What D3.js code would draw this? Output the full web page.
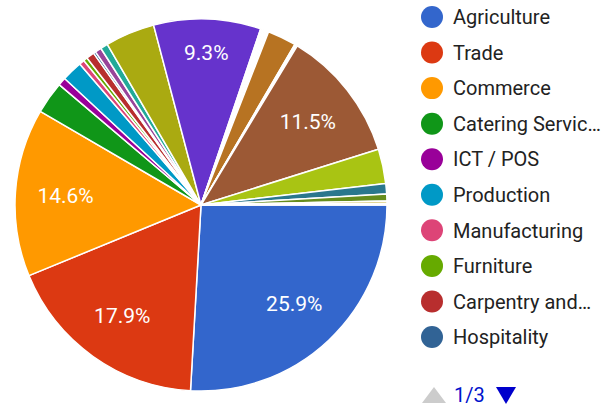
<!DOCTYPE html>
<html>
<head>
<meta charset="utf-8">
<script src="https://cdn.jsdelivr.net/npm/d3@7/dist/d3.min.js"></script>
<style>
  html, body { margin: 0; padding: 0; background: #fff; }
  svg { display: block; font-family: Roboto, "Noto Sans", Arial, sans-serif; }
</style>
</head>
<body>
<svg id="chart" width="615" height="407"></svg>
<script>
// Categories (only the first legend page is visible in the reference)
const categories = [
  "Agriculture", "Trade", "Commerce", "Catering Services", "ICT / POS",
  "Production", "Manufacturing", "Furniture", "Carpentry and Joinery", "Hospitality",
  "Item 11", "Item 12", "Item 13", "Item 14", "Item 15",
  "Item 16", "Item 17", "Item 18", "Item 19", "Item 20",
  "Item 21", "Item 22", "Item 23", "Item 24", "Item 25",
  "Item 26", "Item 27", "Item 28", "Item 29", "Item 30"
];
// Share of each category, percent
const values = [
  25.9, 17.9, 14.6, 2.8, 0.7,
  1.8, 0.45, 0.35, 0.7, 0.2,
  0.55, 0.65, 4.3, 9.3, 0.12,
  0.12, 0.12, 0.12, 0.12, 0.12,
  2.5, 0.08, 0.08, 0.08, 11.5,
  3.0, 0.9, 0.6, 0.2, 0.14
];
const colors = [
  "#3366cc", "#dc3912", "#ff9900", "#109618", "#990099",
  "#0099c6", "#dd4477", "#66aa00", "#b82e2e", "#316395",
  "#994499", "#22aa99", "#aaaa11", "#6633cc", "#e67300",
  "#8b0707", "#651067", "#329262", "#5574a6", "#3b3eac",
  "#b77322", "#16d620", "#b91383", "#f4359e", "#9c5935",
  "#a9c413", "#2a778d", "#668d1c", "#bea413", "#0c5922"
];
const legendPage = "1/3";
const legendPageSize = 10;

const data = categories.map((c, i) => ({ name: c, value: values[i], color: colors[i] }));

const svg = d3.select("#chart");
const cx = 201, cy = 205, R = 186;

const pie = d3.pie().sort(null).value(d => d.value)
  .startAngle(Math.PI / 2).endAngle(Math.PI / 2 + 2 * Math.PI);
const arcs = pie(data);
const arc = d3.arc().innerRadius(0).outerRadius(R);
const labelArc = d3.arc().innerRadius(R * 0.73).outerRadius(R * 0.73);
const labelArcNarrow = d3.arc().innerRadius(R * 0.82).outerRadius(R * 0.82);

const g = svg.append("g").attr("transform", `translate(${cx},${cy})`);
g.selectAll("path.slice").data(arcs).join("path")
  .attr("class", "slice")
  .attr("d", arc)
  .attr("fill", d => d.data.color)
  .attr("stroke", "#fff")
  .attr("stroke-width", 1.5)
  .attr("stroke-linejoin", "round");

const total = d3.sum(values);
g.selectAll("text.pct").data(arcs.filter(d => d.data.value / total >= 0.05)).join("text")
  .attr("class", "pct")
  .attr("transform", d => `translate(${(d.data.value / total < 0.1 ? labelArcNarrow : labelArc).centroid(d)})`)
  .attr("text-anchor", "middle")
  .attr("dy", "0.36em")
  .attr("fill", "#fff")
  .attr("font-size", 21)
  .text(d => d3.format(".1%")(d.data.value / total));

// Legend
const legendItems = data.slice(0, legendPageSize);
const ly = d3.scalePoint().domain(legendItems.map(d => d.name)).range([17, 337]);
const lg = svg.append("g");
const rows = lg.selectAll("g.row").data(legendItems).join("g")
  .attr("class", "row")
  .attr("transform", d => `translate(0,${ly(d.name)})`);
rows.append("circle").attr("cx", 432).attr("cy", 0).attr("r", 11).attr("fill", d => d.color);
const maxW = 151;
rows.append("text")
  .attr("x", 453).attr("dy", "0.36em")
  .attr("font-size", 20).attr("fill", "#222")
  .each(function(d) {
    const t = d3.select(this);
    t.text(d.name);
    if (this.getComputedTextLength() > maxW) {
      let s = d.name;
      while (s.length > 1) {
        s = s.slice(0, -1);
        t.text(s.trimEnd() + "…");
        if (this.getComputedTextLength() <= maxW) break;
      }
    }
  });

// Paging control
const nav = svg.append("g").attr("transform", "translate(0,395)");
nav.append("path").attr("d", "M422,8 L446,8 L434,-8 Z").attr("fill", "#cccccc");
nav.append("text").attr("x", 454).attr("dy", "0.36em").attr("font-size", 20)
  .attr("fill", "#0011cc").text(legendPage);
nav.append("path").attr("d", "M496,-8 L516,-8 L506,9 Z").attr("fill", "#0000cc");
</script>
</body>
</html>
